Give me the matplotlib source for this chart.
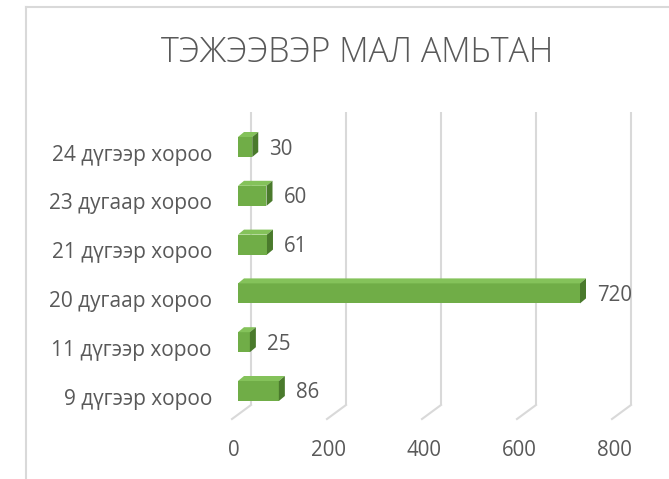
import matplotlib
matplotlib.use("Agg")
import matplotlib.pyplot as plt
from matplotlib.patches import Polygon
from matplotlib.lines import Line2D

categories = ["9 дүгээр хороо", "11 дүгээр хороо", "20 дугаар хороо",
              "21 дүгээр хороо", "23 дугаар хороо", "24 дүгээр хороо"]
values = [86, 25, 720, 61, 60, 30]
ticks = [0, 200, 400, 600, 800]
title = "ТЭЖЭЭВЭР МАЛ АМЬТАН"

W, H = 669, 479
TXT = "#595959"
GRID = "#d9d9d9"
FRONT = "#70ad47"
TOP = "#84c25a"
SIDE = "#4a7a2c"

plt.rcParams["font.family"] = ["Open Sans", "DejaVu Sans"]

fig = plt.figure(figsize=(W / 100, H / 100), dpi=100)
ax = fig.add_axes([0, 0, 1, 1])
ax.axis("off")

# pixel layout of the pseudo-3d plot
x0_px = 238.0          # value 0 on the bar plane
ppu = 95.0 / 200       # pixels per value unit
y0_px = H - 391.0      # centre of first bar (from bottom)
step = 48.8            # pixels per category
ax.set_xlim(-x0_px / ppu, (W - x0_px) / ppu)
ax.set_ylim(-y0_px / step, (H - y0_px) / step)


def px2x(p):
    return p / ppu


def px2y(p):
    return p / step


bar_h = px2y(20)
dx, dy = px2x(6), px2y(5)           # bar depth
front_dx = px2x(-6)                 # floor front edge
back_dx = px2x(13)
floor_y = px2y(H - 419 - y0_px)
top_y = px2y(H - 112 - y0_px)

# back wall gridlines and floor lines
for t in ticks:
    ax.plot([t + back_dx, t + back_dx], [floor_y + px2y(14), top_y],
            color=GRID, lw=1.5, zorder=0, solid_capstyle="butt")
    ax.plot([t + front_dx, t + back_dx], [floor_y, floor_y + px2y(14)],
            color=GRID, lw=1.5, zorder=0)
    ax.text(t + front_dx + px2x(2), floor_y - px2y(32), str(t), ha="center", va="center",
            fontsize=14.8, color=TXT)

ys = list(range(len(values)))
ax.barh(ys, values, height=bar_h, left=0, color=FRONT, zorder=3)
for y, v in zip(ys, values):
    yb, yt = y - bar_h / 2, y + bar_h / 2
    ax.add_patch(Polygon([(0, yt), (v, yt), (v + dx, yt + dy), (dx, yt + dy)],
                         closed=True, facecolor=TOP, edgecolor="none", zorder=3))
    ax.add_patch(Polygon([(v, yb), (v + dx, yb + dy), (v + dx, yt + dy), (v, yt)],
                         closed=True, facecolor=SIDE, edgecolor="none", zorder=3))
    ax.text(v + dx + px2x(11), y - px2y(2), str(v), ha="left", va="center",
            fontsize=14.8, color=TXT)
    ax.text(px2x(212 - x0_px), y - px2y(8), categories[y], ha="right", va="center",
            fontsize=15, color=TXT)

fig.text(357 / W, 1 - 53 / H, title, ha="center", va="center", fontsize=24.5,
         color=TXT, fontweight="light")

# chart area border (partly cropped)
fig.add_artist(Line2D([26 / W, 26 / W], [0, 1 - 7 / H], color=GRID, lw=1.5))
fig.add_artist(Line2D([26 / W, 1], [1 - 7 / H, 1 - 7 / H], color=GRID, lw=1.5))

fig.savefig("out.png", dpi=100)
